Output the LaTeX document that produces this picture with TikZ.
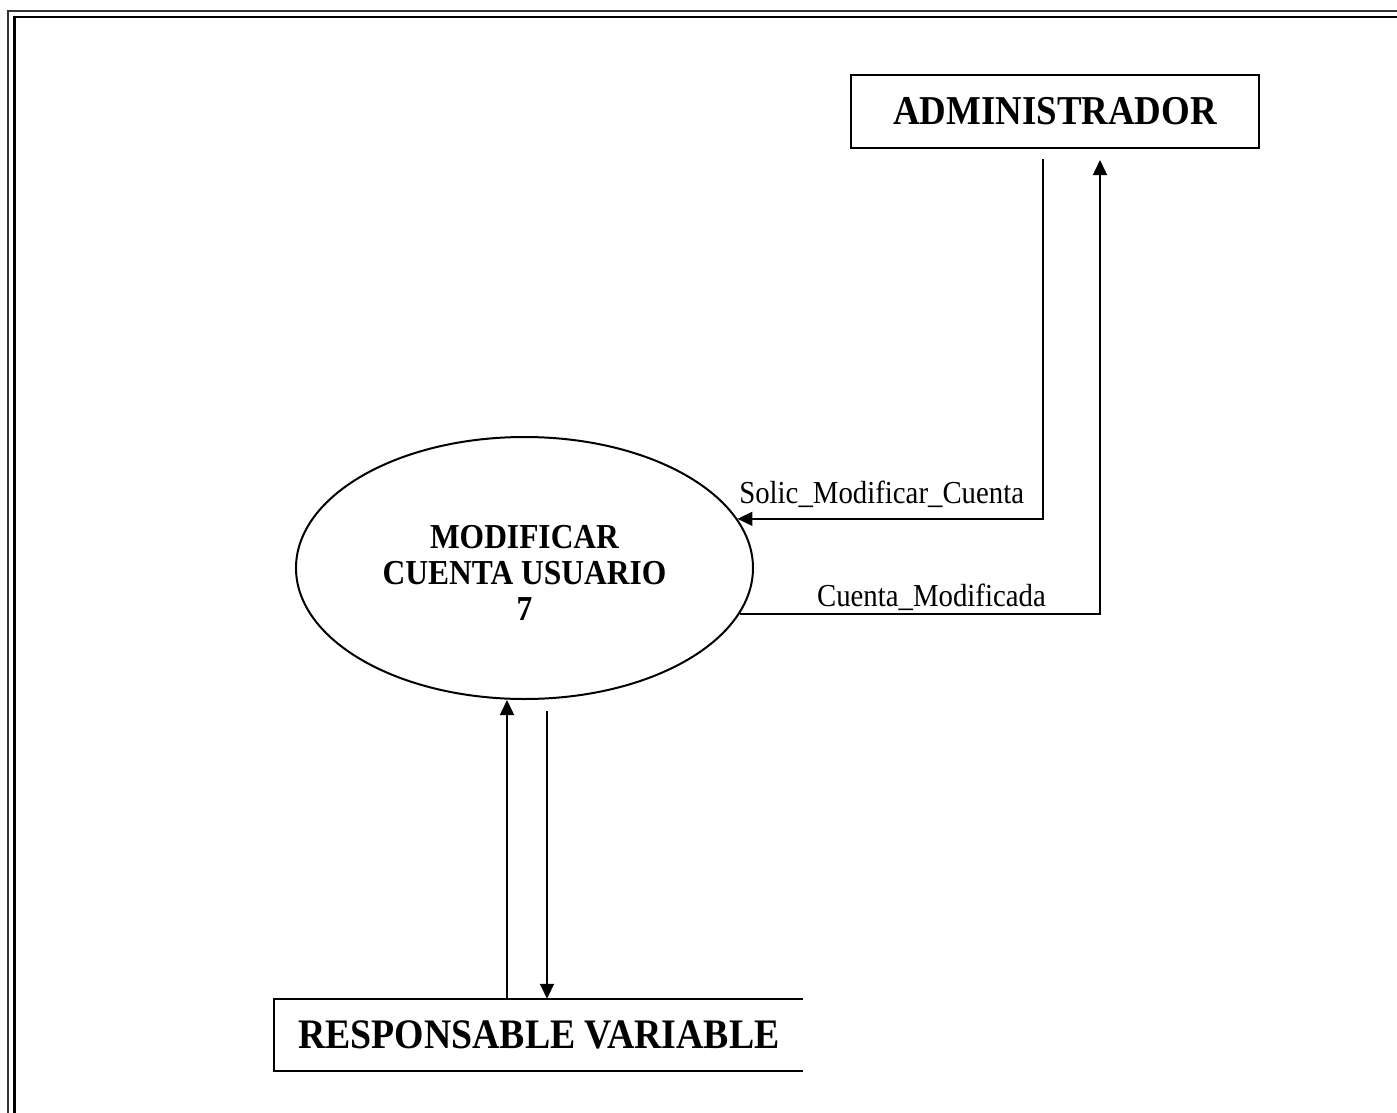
\documentclass[tikz,border=0pt]{standalone}
\usepackage{fontspec}
\setmainfont{Liberation Serif}[FakeStretch=0.9]
\usetikzlibrary{arrows.meta,shapes.geometric}
\begin{document}
\begin{tikzpicture}[x=1pt,y=-1pt,
  entity/.style={draw, line width=2pt, rectangle, inner sep=0pt,
    minimum width=408pt, minimum height=73pt,
    font=\bfseries\fontsize{41}{45}\selectfont},
  openstore/.style={rectangle, inner xsep=24pt, inner ysep=0pt,
    minimum height=72pt, font=\bfseries\fontsize{42}{45}\selectfont},
  process/.style={draw, ellipse, line width=2pt, inner sep=0pt,
    minimum width=457pt, minimum height=262pt},
  proctext/.style={align=center, inner sep=0pt,
    font=\bfseries\fontsize{35}{36}\selectfont},
  flow/.style={line width=1.6pt, -{Triangle[length=15pt,width=14pt]}},
  flowlabel/.style={font=\fontsize{32}{34}\selectfont, inner sep=0pt, anchor=base},
  outerframe/.style={line width=2pt, black!80},
  innerframe/.style={line width=2.5pt, black}]

\useasboundingbox (0,0) rectangle (1397,1113);
\clip (0,0) rectangle (1397,1113);

% double page frame
\draw[outerframe] (8,1140) -- (8,11) -- (1420,11);
\draw[innerframe] (14.5,1140) -- (14.5,17) -- (1420,17);

% external entity
\node[entity] (adm) at (1055,111.5) {ADMINISTRADOR};

% process
\node[process] (proc) at (524.5,568) {};
\node[proctext] (proclabel) at (524.5,573) {MODIFICAR\\CUENTA USUARIO\\7};

% open-ended entity box
\node[openstore, anchor=west] (rv) at (274,1035) {RESPONSABLE VARIABLE};
\draw[line width=2pt] ([xshift=529pt]rv.north west) -- (rv.north west)
  -- (rv.south west) -- ([xshift=529pt]rv.south west);

% data flows
\draw[flow] ([xshift=-12pt,yshift=-10pt]adm.south) |-
  node[flowlabel, pos=0.764, yshift=15pt] {Solic\_Modificar\_Cuenta} (proc.13.3);
\draw[flow] (proc.-12.2) -|
  node[flowlabel, pos=0.266, yshift=7pt] {Cuenta\_Modificada}
  ([xshift=45pt,yshift=-11pt]adm.south);
\draw[flow] ([xshift=233pt]rv.north west) -- ([xshift=-17.5pt]proc.south);
\draw[flow] ([xshift=22.5pt,yshift=-11pt]proc.south) -- ([xshift=273pt]rv.north west);

\end{tikzpicture}
\end{document}
